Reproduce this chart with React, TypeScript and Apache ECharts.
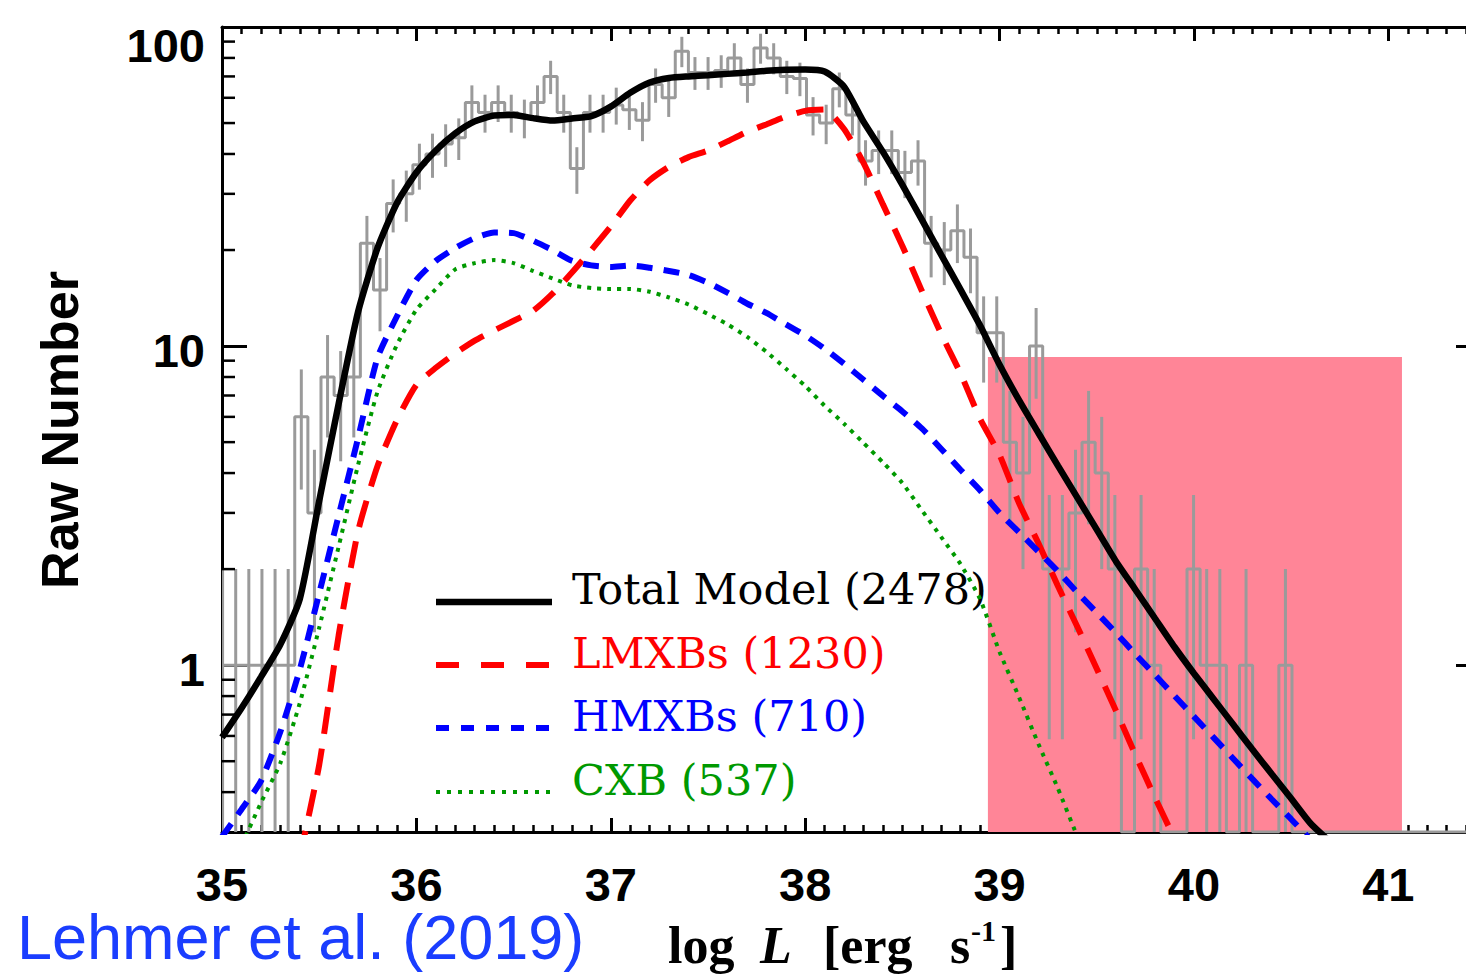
import React, { useEffect, useRef } from "react";
import * as echarts from "echarts";

// ---------- data ----------
const xTickValues = [35, 36, 37, 38, 39, 40, 41];

const modelL = [
  35.0, 35.1, 35.2, 35.3, 35.4, 35.5, 35.6, 35.7, 35.8, 35.9,
  36.0, 36.1, 36.2, 36.3, 36.4, 36.5, 36.6, 36.7, 36.8, 36.9,
  37.0, 37.1, 37.2, 37.3, 37.4, 37.5, 37.6, 37.7, 37.8, 37.9,
  38.0, 38.1, 38.2, 38.3, 38.4, 38.5, 38.6, 38.7, 38.8, 38.9,
  39.0, 39.1, 39.2, 39.3, 39.4, 39.5, 39.6, 39.7, 39.8, 39.9,
  40.0, 40.1, 40.2, 40.3, 40.4, 40.5, 40.6, 40.7,
];

const totalModel = [
  0.594, 0.733, 0.917, 1.16, 1.61, 3.27, 6.59, 12.8, 20.3, 28.1,
  35.0, 41.0, 46.4, 50.6, 52.8, 53.0, 51.8, 50.9, 51.7, 52.6,
  56.3, 62.2, 67.0, 69.2, 70.0, 70.6, 71.3, 72.0, 72.9, 73.4,
  73.6, 72.5, 65.0, 50.5, 40.6, 32.0, 24.9, 19.3, 15.0, 11.6,
  8.74, 6.77, 5.34, 4.22, 3.35, 2.66, 2.11, 1.72, 1.40, 1.14,
  0.942, 0.785, 0.654, 0.545, 0.456, 0.382, 0.319, 0.28,
];

const lmxbModel = [
  null, null, null, null, 0.25, 0.487, 1.24, 2.63, 4.21, 5.87,
  7.56, 8.55, 9.49, 10.4, 11.2, 12.0, 12.9, 14.6, 17.0, 20.0,
  23.7, 28.6, 33.1, 36.5, 39.1, 41.0, 43.8, 46.9, 49.5, 52.4,
  54.6, 55.1, 47.9, 37.5, 27.8, 20.6, 14.9, 10.9, 8.19, 5.91,
  4.56, 3.22, 2.41, 1.77, 1.32, 0.975, 0.717, 0.522, 0.384, 0.286,
  null, null, null, null, null, null, null, null,
];

const hmxbModel = [
  0.29, 0.353, 0.433, 0.618, 0.968, 1.68, 2.94, 5.15, 9.19, 12.4,
  16.1, 18.5, 20.3, 21.8, 22.7, 22.6, 21.4, 20.0, 18.5, 17.9,
  17.7, 17.9, 17.6, 17.2, 16.7, 15.8, 14.7, 13.6, 12.7, 11.7,
  10.8, 9.81, 8.80, 7.84, 6.98, 6.24, 5.52, 4.76, 4.09, 3.53,
  3.00, 2.61, 2.27, 1.97, 1.69, 1.46, 1.26, 1.08, 0.931, 0.801,
  0.690, 0.594, 0.511, 0.440, 0.380, 0.329, 0.284, null,
];

const cxbModel = [
  null, 0.272, 0.370, 0.493, 0.760, 1.31, 2.35, 4.24, 7.19, 10.1,
  13.0, 15.1, 17.4, 18.2, 18.6, 18.2, 17.2, 16.3, 15.5, 15.2,
  15.1, 15.1, 14.8, 14.2, 13.5, 12.6, 11.7, 10.7, 9.6, 8.5,
  7.5, 6.5, 5.71, 4.97, 4.32, 3.72, 3.06, 2.52, 2.07, 1.61,
  1.10, 0.794, 0.566, 0.411, 0.29, null, null, null, null, null,
  null, null, null, null, null, null, null, null,
];

// observed histogram (raw counts per bin)
const histFirstCenter = 35.003;
const histBinWidth = 0.0675;
const histCounts = [
  1,
  1, 1, 1, 1, 1, 6, 3, 8, 7, 8,
  21, 15, 28, 30, 37, 40, 43, 45, 58, 54,
  58, 54, 52, 58, 70, 54, 36, 54, 54, 57,
  55, 51, 66, 60, 84, 72, 72, 73, 80, 66,
  86, 80, 70, 69, 53, 50, 64, 53, 38, 41,
  41, 35, 38, 21, 20, 23, 19, 11, 11, 5,
  4, 10, 2, 2, 3, 5, 4, 2, 0, 2,
  1, 0, 0, 2, 1, 1, 0, 1, 0, 0,
  1, 0, 0, 0, 0, 0, 0, 0, 0, 0,
  0, 0, 0, 0, 0, 0,
];

// shaded region: [log L start, log L end, top]
const shadedRegion = [[38.94, 41.07, 9.25]];

const yMinorTicks = [
  0.4, 0.5, 0.6, 0.7, 0.8, 0.9,
  2, 3, 4, 5, 6, 7, 8, 9,
  20, 30, 40, 50, 60, 70, 80, 90,
];

const legendLabels = ["Total Model (2478)", "LMXBs (1230)", "HMXBs (710)", "CXB (537)"];
const creditText = "Lehmer et al. (2019)";

// ---------- helpers ----------
const Y_MIN = 0.3;
const Y_MAX = 100;
const X_MIN = 35;
const X_MAX = 41.42;

const GREY = "#9a9a9a";
const tickFont = '"Liberation Sans", Arial, sans-serif';

function modelPoints(values: (number | null)[]) {
  const pts: number[][] = [];
  modelL.forEach((x, i) => {
    const v = values[i];
    if (v !== null && v !== undefined) pts.push([x, v]);
  });
  return pts;
}

export default function App() {
  const ref = useRef<HTMLDivElement>(null);

  useEffect(() => {
    if (!ref.current) return;
    const chart = echarts.init(ref.current, null, { renderer: "svg" });

    const histData = histCounts.map((c, i) => [
      histFirstCenter + i * histBinWidth,
      c > 0 ? c : Y_MIN,
    ]);
    const errData = histCounts
      .map((c, i) => [histFirstCenter + i * histBinWidth, c])
      .filter((d) => d[1] > 0)
      .map((d) => [d[0], Math.max(d[1] - Math.sqrt(d[1]), Y_MIN), d[1] + Math.sqrt(d[1])]);

    const models = [
      { name: legendLabels[0], values: totalModel, color: "#000000", width: 6.5, type: "solid" as any, legendDash: null as any },
      { name: legendLabels[1], values: lmxbModel, color: "#ff0000", width: 6, type: [27, 15], legendDash: [23, 22] },
      { name: legendLabels[2], values: hmxbModel, color: "#0000ff", width: 6, type: [16, 11], legendDash: [13, 12] },
      { name: legendLabels[3], values: cxbModel, color: "#009900", width: 4, type: [4, 6], legendDash: [4, 7] },
    ];

    const xMain = {
      type: "value",
      min: X_MIN,
      max: X_MAX,
      interval: 1,
      splitLine: { show: false },
    };
    const xMinor = {
      type: "value",
      min: X_MIN,
      max: X_MAX,
      interval: 0.1,
      splitLine: { show: false },
      axisLine: { show: false },
      axisLabel: { show: false },
      axisTick: { show: true, inside: true, length: 7, lineStyle: { color: "#000", width: 2.5 } },
    };

    const legendLineY = [602, 665, 728, 792];
    const legendTextY = [589, 653, 716, 780];

    const legendGraphics: any[] = [];
    models.forEach((m, i) => {
      legendGraphics.push({
        type: "line",
        shape: { x1: 436, y1: legendLineY[i], x2: 552, y2: legendLineY[i] },
        style: {
          stroke: m.color,
          lineWidth: m.width,
          lineDash: m.legendDash || undefined,
        },
        silent: true,
      });
      legendGraphics.push({
        type: "text",
        x: 572,
        y: legendTextY[i],
        style: {
          text: m.name,
          fill: m.color,
          font: '43px "DejaVu Serif", serif',
          textAlign: "left",
          textVerticalAlign: "middle",
        },
        silent: true,
      });
    });

    const boldSerif = 'bold 52px "Liberation Serif", "Times New Roman", serif';
    const axisTitle = (text: string, x: number, y: number, font: string) => ({
      type: "text",
      x,
      y,
      style: { text, fill: "#000", font, textAlign: "left", textVerticalAlign: "middle", lineHeight: 52 },
      silent: true,
    });

    const option: any = {
      animation: false,
      backgroundColor: "#ffffff",
      grid: {
        left: 222,
        top: 27,
        right: 10,
        bottom: 142,
        containLabel: false,
        outerBoundsMode: "none",
      },
      xAxis: [
        {
          ...xMain,
          position: "bottom",
          axisLine: { show: true, onZero: false, lineStyle: { color: "#000", width: 3 } },
          axisTick: { show: true, inside: true, length: 14, lineStyle: { color: "#000", width: 3 } },
          axisLabel: {
            show: true,
            margin: 32,
            showMaxLabel: false,
            color: "#000",
            fontSize: 47,
            lineHeight: 40,
            fontWeight: "bold",
            fontFamily: tickFont,
            formatter: (v: number) => (xTickValues.includes(Math.round(v)) ? String(Math.round(v)) : ""),
          },
        },
        { ...xMinor, position: "bottom" },
        {
          ...xMain,
          position: "top",
          axisLine: { show: true, onZero: false, lineStyle: { color: "#000", width: 3 } },
          axisTick: { show: true, inside: true, length: 14, lineStyle: { color: "#000", width: 3 } },
          axisLabel: { show: false },
        },
        { ...xMinor, position: "top" },
      ],
      yAxis: [
        {
          type: "log",
          logBase: 10,
          min: Y_MIN,
          max: Y_MAX,
          position: "left",
          splitLine: { show: false },
          axisLine: { show: true, onZero: false, lineStyle: { color: "#000", width: 3 } },
          axisTick: { show: true, inside: true, length: 25, lineStyle: { color: "#000", width: 3 } },
          axisLabel: {
            show: true,
            showMinLabel: false,
            margin: 17,
            formatter: (v: number) => {
              const r = Math.round(v);
              return r >= 100 ? "{t|" + r + "}" : "{m|" + r + "}";
            },
            rich: {
              t: { fontSize: 47, fontWeight: "bold", fontFamily: tickFont, color: "#000", padding: [36, 0, 0, 0] },
              m: { fontSize: 47, fontWeight: "bold", fontFamily: tickFont, color: "#000", padding: [8, 0, 0, 0] },
            },
          },
        },
        {
          type: "log",
          logBase: 10,
          min: Y_MIN,
          max: Y_MAX,
          position: "right",
          splitLine: { show: false },
          axisLine: { show: true, onZero: false, lineStyle: { color: "#000", width: 3 } },
          axisTick: { show: true, inside: true, length: 14, lineStyle: { color: "#000", width: 3 } },
          axisLabel: { show: false },
        },
      ],
      series: [
        {
          type: "custom",
          name: "region",
          xAxisIndex: 0,
          yAxisIndex: 0,
          z: 1,
          silent: true,
          clip: true,
          encode: { x: [0, 1], y: 2 },
          data: shadedRegion,
          renderItem: (params: any, api: any) => {
            const p1 = api.coord([api.value(0), api.value(2)]);
            const p2 = api.coord([api.value(1), Y_MIN]);
            return {
              type: "rect",
              shape: { x: p1[0], y: p1[1], width: p2[0] - p1[0], height: p2[1] - p1[1] },
              style: { fill: "#ff8597" },
            };
          },
        },
        {
          type: "line",
          name: "Observed",
          xAxisIndex: 0,
          yAxisIndex: 0,
          z: 2,
          step: "middle",
          symbol: "none",
          showSymbol: false,
          clip: true,
          silent: true,
          lineStyle: { color: GREY, width: 3 },
          data: histData,
        },
        {
          type: "custom",
          name: "Errors",
          xAxisIndex: 0,
          yAxisIndex: 0,
          z: 2,
          silent: true,
          clip: true,
          encode: { x: 0, y: [1, 2] },
          data: errData,
          renderItem: (params: any, api: any) => {
            const x = api.value(0);
            const p1 = api.coord([x, api.value(1)]);
            const p2 = api.coord([x, api.value(2)]);
            return {
              type: "line",
              shape: { x1: p1[0], y1: p1[1], x2: p2[0], y2: p2[1] },
              style: { stroke: GREY, lineWidth: 3 },
            };
          },
        },
        ...models.map((m, i) => ({
          type: "line",
          name: m.name,
          xAxisIndex: 0,
          yAxisIndex: 0,
          z: 4 + i,
          symbol: "none",
          showSymbol: false,
          smooth: 0.2,
          clip: true,
          silent: true,
          lineStyle: { color: m.color, width: m.width, type: m.type, cap: "butt" },
          data: modelPoints(m.values),
        })),
        {
          type: "custom",
          name: "yMinorTicks",
          xAxisIndex: 0,
          yAxisIndex: 0,
          z: 10,
          silent: true,
          clip: false,
          encode: { x: 0, y: 1 },
          data: yMinorTicks.map((v) => [X_MIN, v]),
          renderItem: (params: any, api: any) => {
            const p = api.coord([api.value(0), api.value(1)]);
            return {
              type: "line",
              shape: { x1: p[0], y1: p[1], x2: p[0] + 13, y2: p[1] },
              style: { stroke: "#000", lineWidth: 2.5 },
            };
          },
        },
      ],
      graphic: [
        ...legendGraphics,
        {
          type: "text",
          x: 60,
          y: 430,
          rotation: Math.PI / 2,
          style: {
            text: "Raw Number",
            fill: "#000",
            font: 'bold 52px "Liberation Sans", Arial, sans-serif',
            textAlign: "center",
            textVerticalAlign: "middle",
          },
          silent: true,
        },
        axisTitle("log", 668, 945, boldSerif),
        axisTitle("L", 760, 945, 'italic bold 52px "Liberation Serif", serif'),
        axisTitle("[erg", 823, 945, boldSerif),
        axisTitle("s", 950, 945, boldSerif),
        {
          type: "text",
          x: 971,
          y: 930,
          style: { text: "-1", fill: "#000", font: 'bold 30px "Liberation Serif", serif', textAlign: "left", textVerticalAlign: "middle", lineHeight: 30 },
          silent: true,
        },
        axisTitle("]", 1000, 945, boldSerif),
        {
          type: "text",
          x: 17,
          y: 937,
          style: {
            text: creditText,
            fill: "#1a3dff",
            font: '63px "Liberation Sans", Arial, sans-serif',
            textAlign: "left",
            textVerticalAlign: "middle",
            lineHeight: 54,
          },
          silent: true,
        },
      ],
    };

    chart.setOption(option);
    return () => chart.dispose();
  }, []);

  return (
    <div
      style={{
        position: "fixed",
        left: 0,
        top: 0,
        width: 1466,
        height: 974,
        overflow: "hidden",
        background: "#ffffff",
      }}
    >
      <div ref={ref} style={{ width: 1480, height: 974 }} />
    </div>
  );
}
